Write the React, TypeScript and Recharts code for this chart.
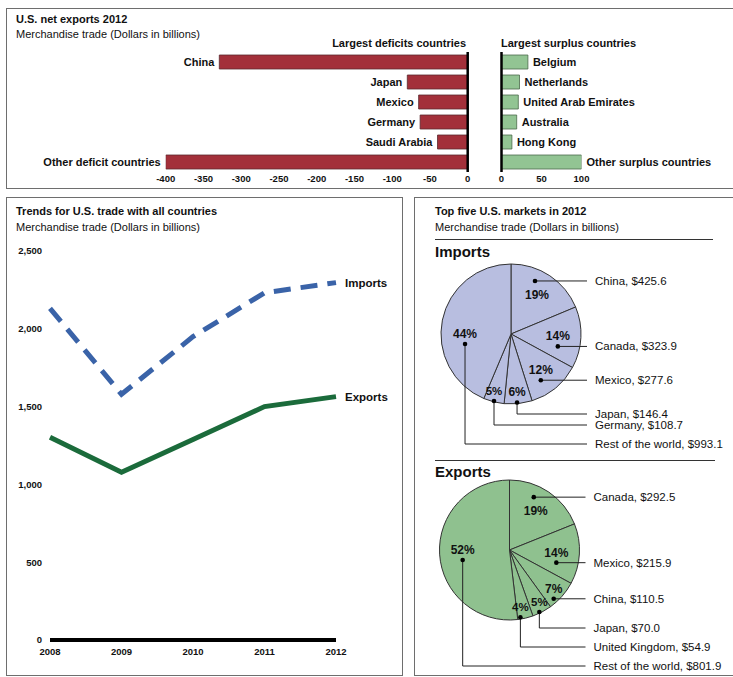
import React from 'react';
import {
  BarChart, Bar, XAxis, YAxis, ReferenceLine, LabelList,
  LineChart, Line, PieChart, Pie, Cell,
} from 'recharts';

const FONT = "'Liberation Sans', Arial, Helvetica, sans-serif";

// ---- Net exports (bar charts) ----
const deficitCountries = ['China', 'Japan', 'Mexico', 'Germany', 'Saudi Arabia', 'Other deficit countries'];
const deficitValues = [-329, -80, -65, -63, -40, -400];
const deficitTicks = [-400, -350, -300, -250, -200, -150, -100, -50, 0];

const surplusCountries = ['Belgium', 'Netherlands', 'United Arab Emirates', 'Australia', 'Hong Kong', 'Other surplus countries'];
const surplusValues = [33, 22.5, 21, 19, 13, 100];
const surplusTicks = [0, 50, 100];

// ---- Trends (line chart) ----
const years = [2008, 2009, 2010, 2011, 2012];
const importsTrend = [2130, 1578, 1948, 2230, 2295];
const exportsTrend = [1302, 1077, 1288, 1499, 1563];
const trendTicks = [0, 500, 1000, 1500, 2000, 2500];

// ---- Top five markets (pies) ----
const importPartners = ['China', 'Canada', 'Mexico', 'Japan', 'Germany', 'Rest of the world'];
const importValues = [425.6, 323.9, 277.6, 146.4, 108.7, 993.1];
const exportPartners = ['Canada', 'Mexico', 'China', 'Japan', 'United Kingdom', 'Rest of the world'];
const exportValues = [292.5, 215.9, 110.5, 70.0, 54.9, 801.9];

const deficitData = deficitCountries.map((name, i) => ({ name, value: deficitValues[i] }));
const surplusData = surplusCountries.map((name, i) => ({ name, value: surplusValues[i] }));
const trendData = years.map((year, i) => ({ year, imports: importsTrend[i], exports: exportsTrend[i] }));
const importPie = importPartners.map((name, i) => ({ name, value: importValues[i] }));
const exportPie = exportPartners.map((name, i) => ({ name, value: exportValues[i] }));

const RED = '#a3303a';
const GREEN_BAR = '#92c493';
const IMPORT_FILL = '#b8bee0';
const EXPORT_FILL = '#8fc18f';
const BORDER = '#6e6e6e';

const tickStyle = { fontSize: 9.5, fontWeight: 700, fill: '#111', fontFamily: FONT };

const deficitLabel = (p: any) => {
  const x = Number(p.x), w = Number(p.width), y = Number(p.y), h = Number(p.height);
  const left = Math.min(x, x + w);
  return (
    <text x={left - 5} y={y + h / 2} textAnchor="end" dominantBaseline="central"
      fontSize={11} fontWeight={700} fill="#111" fontFamily={FONT}>{p.value}</text>
  );
};

const surplusLabel = (p: any) => {
  const x = Number(p.x), w = Number(p.width), y = Number(p.y), h = Number(p.height);
  const right = Math.max(x, x + w);
  return (
    <text x={right + 5} y={y + h / 2} textAnchor="start" dominantBaseline="central"
      fontSize={11} fontWeight={700} fill="#111" fontFamily={FONT}>{p.value}</text>
  );
};

const endLabel = (text: string, last: number) => (p: any) => {
  if (p.index !== last) return null;
  return (
    <text x={Number(p.x) + 9} y={Number(p.y)} textAnchor="start" dominantBaseline="central"
      fontSize={11.5} fontWeight={700} fill="#111" fontFamily={FONT}>{text}</text>
  );
};

const makePieLabel = (rows: number[]) => (p: any) => {
  const { cx, cy, midAngle, outerRadius, percent, index, name, value } = p;
  const RAD = Math.PI / 180;
  const small = percent < 0.05;
  const tr = percent >= 0.1 ? outerRadius * 0.67 : outerRadius * 0.84;
  let tx = cx + tr * Math.cos(midAngle * RAD);
  const ty = percent > 0.4 ? cy : cy - tr * Math.sin(midAngle * RAD);
  if (small) tx += midAngle > -70 ? 2.5 : -2.5;
  const dx = index === 0 ? tx - 2 : tx;
  const dy = index === 0 ? ty - 14 : ty + 10;
  const endX = cx + 76;
  const labelX = cx + 84;
  let d: string;
  let ly: number;
  if (index < 3) {
    ly = dy;
    d = `M${dx},${dy}H${endX}`;
  } else {
    ly = cy + rows[index - 3];
    d = `M${dx},${dy}V${ly}H${endX}`;
  }
  return (
    <g>
      <path d={d} stroke="#222" strokeWidth={1} fill="none" />
      <circle cx={dx} cy={dy} r={2.3} fill="#000" />
      <text x={tx} y={ty} textAnchor="middle" dominantBaseline="central"
        fontSize={small ? 11.5 : 12} fontWeight={700} fill="#111" fontFamily={FONT}>{`${Math.round(percent * 100)}%`}</text>
      <text x={labelX} y={ly} textAnchor="start" dominantBaseline="central"
        fontSize={11.5} fill="#111" fontFamily={FONT}>{`${name}, $${Number(value).toFixed(1)}`}</text>
    </g>
  );
};

const abs = (s: React.CSSProperties): React.CSSProperties => ({ position: 'absolute', ...s });

const Txt = ({ x, y, size = 11, bold = false, right, children }: any) => (
  <div style={abs({
    left: right === undefined ? x : undefined,
    right: right !== undefined ? 733 - right : undefined,
    top: y - 8, lineHeight: '16px', fontSize: size, fontWeight: bold ? 700 : 400,
    color: '#111', whiteSpace: 'nowrap', fontFamily: FONT,
  })}>{children}</div>
);

const noMargin = { top: 0, right: 0, bottom: 0, left: 0 };

export default function App() {
  return (
    <div style={abs({ left: 0, top: 0, width: 733, height: 677, background: '#fff', overflow: 'hidden', fontFamily: FONT })}>
      {/* panel borders */}
      <div style={abs({ left: 6, top: 8, width: 740, height: 181, border: `1.5px solid ${BORDER}`, boxSizing: 'border-box' })} />
      <div style={abs({ left: 6, top: 197, width: 396.5, height: 479, border: `1.5px solid ${BORDER}`, boxSizing: 'border-box' })} />
      <div style={abs({ left: 413.5, top: 197, width: 330, height: 479, border: `1.5px solid ${BORDER}`, boxSizing: 'border-box' })} />

      {/* Top panel */}
      <Txt x={16} y={19} size={11} bold>U.S. net exports 2012</Txt>
      <Txt x={16} y={34} size={11}>Merchandise trade (Dollars in billions)</Txt>
      <Txt right={466} y={43} size={11} bold>Largest deficits countries</Txt>
      <Txt x={501} y={43} size={11} bold>Largest surplus countries</Txt>

      <div style={abs({ left: 0, top: 0 })}>
        <BarChart width={480} height={190} data={deficitData} layout="vertical"
          margin={{ top: 52, right: 12.3, bottom: 0, left: 165.7 }}>
          <XAxis type="number" domain={[-400, 0]} ticks={deficitTicks} height={18}
            axisLine={false} tickLine={false} tickSize={0} tickMargin={3} tick={tickStyle}
            interval={0} allowDataOverflow />
          <YAxis type="category" dataKey="name" hide />
          <Bar dataKey="value" fill={RED} stroke="#5a2a2e" strokeWidth={0.8} barSize={14} isAnimationActive={false}>
            <LabelList dataKey="name" content={deficitLabel} />
          </Bar>
          <ReferenceLine x={0} stroke="#000" strokeWidth={2.5} />
        </BarChart>
      </div>

      <div style={abs({ left: 490, top: 0 })}>
        <BarChart width={243} height={190} data={surplusData} layout="vertical"
          margin={{ top: 52, right: 151.5, bottom: 0, left: 11.5 }}>
          <XAxis type="number" domain={[0, 100]} ticks={surplusTicks} height={18}
            axisLine={false} tickLine={false} tickSize={0} tickMargin={3} tick={tickStyle}
            interval={0} allowDataOverflow />
          <YAxis type="category" dataKey="name" hide />
          <Bar dataKey="value" fill={GREEN_BAR} stroke="#4b6a4b" strokeWidth={0.8} barSize={14} isAnimationActive={false}>
            <LabelList dataKey="name" content={surplusLabel} />
          </Bar>
          <ReferenceLine x={0} stroke="#000" strokeWidth={2.5} />
        </BarChart>
      </div>

      {/* Trends panel */}
      <Txt x={16} y={211} size={11} bold>Trends for U.S. trade with all countries</Txt>
      <Txt x={16} y={227} size={11}>Merchandise trade (Dollars in billions)</Txt>
      <div style={abs({ left: 0, top: 240 })}>
        <LineChart width={400} height={430} data={trendData}
          margin={{ top: 10.7, right: 64, bottom: 0, left: 0 }}>
          <XAxis type="number" dataKey="year" domain={[2008, 2012]} ticks={years} height={30}
            axisLine={false} tickLine={false} tickSize={0} tickMargin={8} tick={tickStyle} interval={0} />
          <YAxis type="number" domain={[0, 2500]} ticks={trendTicks} width={50}
            axisLine={false} tickLine={false} tickSize={0} tickMargin={8} tick={tickStyle} interval={0}
            tickFormatter={(v: number) => v.toLocaleString('en-US')} />
          <ReferenceLine y={0} stroke="#000" strokeWidth={4} />
          <Line type="linear" dataKey="imports" stroke="#3a63a8" strokeWidth={5} strokeDasharray="17 10"
            dot={false} isAnimationActive={false}>
            <LabelList dataKey="imports" content={endLabel('Imports', years.length - 1)} />
          </Line>
          <Line type="linear" dataKey="exports" stroke="#1b6b3b" strokeWidth={5}
            dot={false} isAnimationActive={false}>
            <LabelList dataKey="exports" content={endLabel('Exports', years.length - 1)} />
          </Line>
        </LineChart>
      </div>

      {/* Markets panel */}
      <Txt x={435} y={211} size={11} bold>Top five U.S. markets in 2012</Txt>
      <Txt x={435} y={227} size={11}>Merchandise trade (Dollars in billions)</Txt>
      <div style={abs({ left: 435, top: 239, width: 278, height: 1, background: '#333' })} />
      <Txt x={435} y={252} size={15} bold>Imports</Txt>
      <div style={abs({ left: 415, top: 255 })}>
        <PieChart width={318} height={200} margin={noMargin}>
          <Pie data={importPie} dataKey="value" nameKey="name" cx={96} cy={79} outerRadius={70}
            startAngle={90} endAngle={-270} stroke="#333" strokeWidth={1}
            label={makePieLabel([80, 91, 110])} labelLine={false} isAnimationActive={false}>
            {importPie.map((d) => <Cell key={d.name} fill={IMPORT_FILL} />)}
          </Pie>
        </PieChart>
      </div>

      <div style={abs({ left: 435, top: 460, width: 280, height: 1, background: '#333' })} />
      <Txt x={435} y={472} size={15} bold>Exports</Txt>
      <div style={abs({ left: 415, top: 470 })}>
        <PieChart width={318} height={207} margin={noMargin}>
          <Pie data={exportPie} dataKey="value" nameKey="name" cx={94.5} cy={80} outerRadius={70}
            startAngle={90} endAngle={-270} stroke="#333" strokeWidth={1}
            label={makePieLabel([78, 97, 116])} labelLine={false} isAnimationActive={false}>
            {exportPie.map((d) => <Cell key={d.name} fill={EXPORT_FILL} />)}
          </Pie>
        </PieChart>
      </div>
    </div>
  );
}
